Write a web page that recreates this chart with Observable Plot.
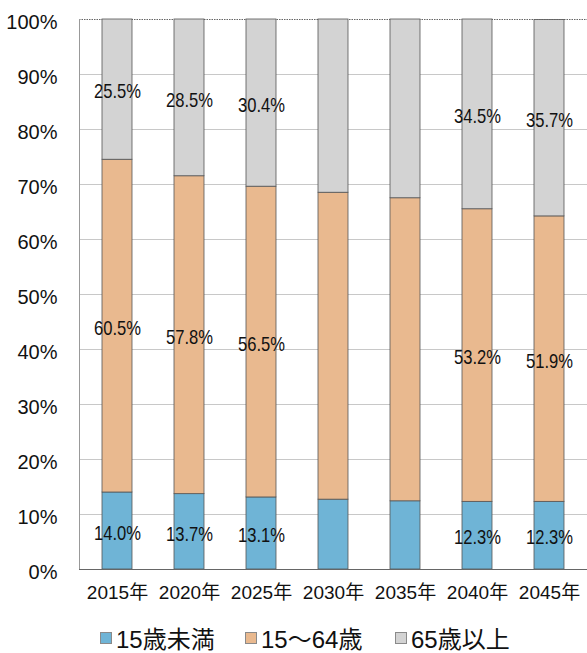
<!DOCTYPE html>
<html>
<head>
<meta charset="utf-8">
<script src="https://cdn.jsdelivr.net/npm/d3@7"></script>
<script src="https://cdn.jsdelivr.net/npm/@observablehq/plot@0.6"></script>
<style>
  html, body { margin: 0; padding: 0; background: #fff; }
  #chart svg { display: block; }
  #legend { position: relative; height: 41px; font-family: "Liberation Sans", "Noto Sans CJK JP", sans-serif; font-size: 24px; color: #111; }
  .item { position: absolute; top: 8px; display: flex; align-items: center; }
  .sw { width: 12px; height: 12px; border: 1px solid #8a8a8a; margin-right: 4px; box-sizing: border-box; }
</style>
</head>
<body>
<div id="chart"></div>
<div id="legend"></div>
<script>
const years = ["2015年", "2020年", "2025年", "2030年", "2035年", "2040年", "2045年"];
const groups = ["15歳未満", "15～64歳", "65歳以上"];
const under15 = [14.0, 13.7, 13.1, 12.7, 12.4, 12.3, 12.3];
const working = [60.5, 57.8, 56.5, 55.8, 55.1, 53.2, 51.9];
const elderly = [25.5, 28.5, 30.4, 31.5, 32.5, 34.5, 35.7];
const labeled = [true, true, true, false, false, true, true];
const colors = ["#6fb4d6", "#e9b98f", "#d3d3d3"];
const yTicks = [0, 10, 20, 30, 40, 50, 60, 70, 80, 90, 100];

const series = [under15, working, elderly];
const data = [];
years.forEach((yr, i) => {
  groups.forEach((g, j) => {
    data.push({year: yr, group: g, value: series[j][i], label: labeled[i] ? series[j][i].toFixed(1) + "%" : ""});
  });
});

const chart = Plot.plot({
  width: 587,
  height: 612,
  marginTop: 19,
  marginBottom: 43,
  marginLeft: 79,
  marginRight: 0,
  style: {fontFamily: "'Liberation Sans', 'Noto Sans CJK JP', sans-serif", color: "#111", background: "#fff"},
  x: {domain: years, paddingInner: 0.59, paddingOuter: 0.29, label: null},
  y: {domain: [0, 100], label: null},
  color: {domain: groups, range: colors},
  marks: [
    Plot.gridY(yTicks.filter(d => d > 0 && d < 100), {stroke: "#c8c8c8", strokeOpacity: 1, strokeWidth: 1}),
    Plot.ruleY([100], {stroke: "#666", strokeDasharray: "1.5,1", strokeWidth: 1}),
    Plot.frame({anchor: "left", stroke: "#999", strokeWidth: 1}),
    Plot.barY(data, {x: "year", y: "value", fill: "group", order: groups, stroke: "#555", strokeWidth: 0.8}),
    Plot.ruleY([0], {stroke: "#666", strokeWidth: 1}),
    Plot.text(data, Plot.stackY({x: "year", y: "value", z: "group", order: groups, text: "label",
      fontSize: 21, fill: "#111", dy: 2, className: "vlabel"})),
    Plot.axisY({ticks: yTicks, tickFormat: d => d + "%", tickSize: 0, tickPadding: 22, fontSize: 20, dy: 3, label: null}),
    Plot.axisX({tickSize: 0, tickPadding: 16, fontSize: 19, label: null})
  ]
});
document.getElementById("chart").appendChild(chart);

// condense the value labels horizontally, as in the original
chart.querySelectorAll(".vlabel text").forEach(t => {
  const w = t.getComputedTextLength();
  if (w > 0) {
    t.setAttribute("textLength", (w * 0.79).toFixed(1));
    t.setAttribute("lengthAdjust", "spacingAndGlyphs");
  }
});

const legend = document.getElementById("legend");
const lefts = [100, 245, 395];
groups.forEach((g, j) => {
  const item = document.createElement("div");
  item.className = "item";
  item.style.left = lefts[j] + "px";
  const sw = document.createElement("span");
  sw.className = "sw";
  sw.style.background = colors[j];
  const t = document.createElement("span");
  t.textContent = g;
  item.appendChild(sw);
  item.appendChild(t);
  legend.appendChild(item);
});
</script>
</body>
</html>
